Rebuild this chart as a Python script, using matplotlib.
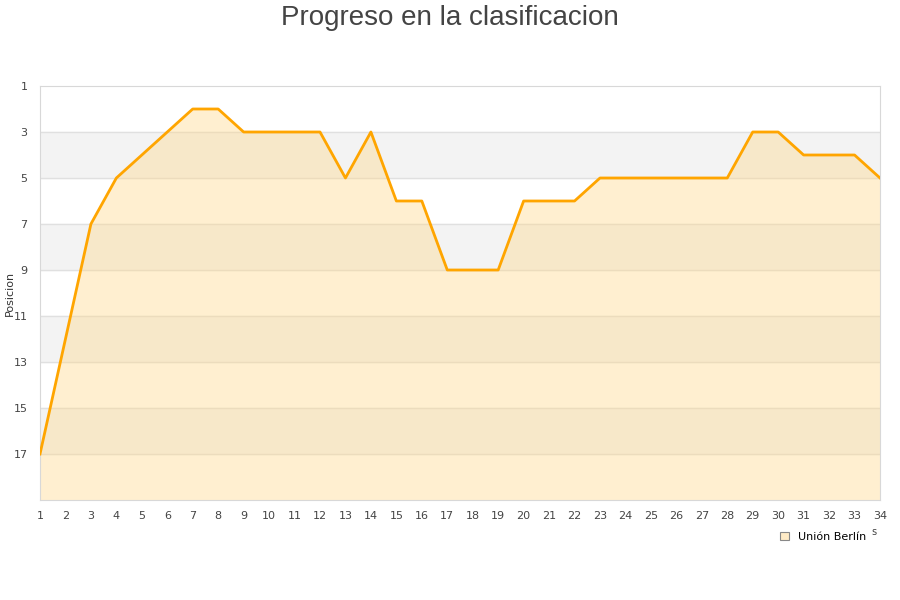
import matplotlib.pyplot as plt
from matplotlib.patches import Patch

# Jornada -> posicion en la tabla
jornadas = list(range(1, 35))
posiciones = [17, 12, 7, 5, 4, 3, 2, 2, 3, 3, 3, 3, 5, 3, 6, 6, 9, 9, 9, 6,
              6, 6, 5, 5, 5, 5, 5, 5, 3, 3, 4, 4, 4, 5]
y_ticks = [1, 3, 5, 7, 9, 11, 13, 15, 17]
equipo = 'Unión Berlín'

fig = plt.figure(figsize=(9, 6), dpi=100)
ax = fig.add_axes([40 / 900, 1 - 500 / 600, 840 / 900, 414 / 600])

# alternating bands
for lo in [3, 7, 11, 15]:
    ax.axhspan(lo, lo + 2, color='#f3f3f3', zorder=0)
for t in y_ticks[1:]:
    ax.axhline(t, color='#e0e0e0', linewidth=1, zorder=1)

ax.fill_between(jornadas, posiciones, 19, color='#ffd88a', alpha=0.4, linewidth=0, zorder=2)
ax.plot(jornadas, posiciones, color='#ffa500', linewidth=2, zorder=3)

ax.set_xlim(1, 34)
ax.set_ylim(19, 1)
ax.set_xticks(jornadas)
ax.set_yticks(y_ticks)
ax.tick_params(length=0, labelsize=8, colors='#444444', pad=8)
ax.tick_params(axis='y', pad=9)
for s in ax.spines.values():
    s.set_color('#d8d8d8')

fig.text(10 / 900, 1 - 293 / 600, 'Posicion', rotation=90, fontsize=8, color='#333333',
         ha='center', va='center')
fig.text(0.5, 0.992, 'Progreso en la clasificacion', ha='center', va='top',
         fontsize=20, color='#444444', family='Liberation Sans')

handle = Patch(facecolor='#ffebc6', edgecolor='#888888', linewidth=0.8)
fig.legend([handle], [equipo], loc='center left', bbox_to_anchor=(770 / 900, 1 - 537 / 600),
           frameon=False, fontsize=8, handlelength=0.8, handleheight=0.8, handletextpad=0.8)
fig.text(874 / 900, 1 - 532 / 600, 's', fontsize=7, color='#444444', ha='center', va='center')

fig.savefig('out.png', dpi=100)
